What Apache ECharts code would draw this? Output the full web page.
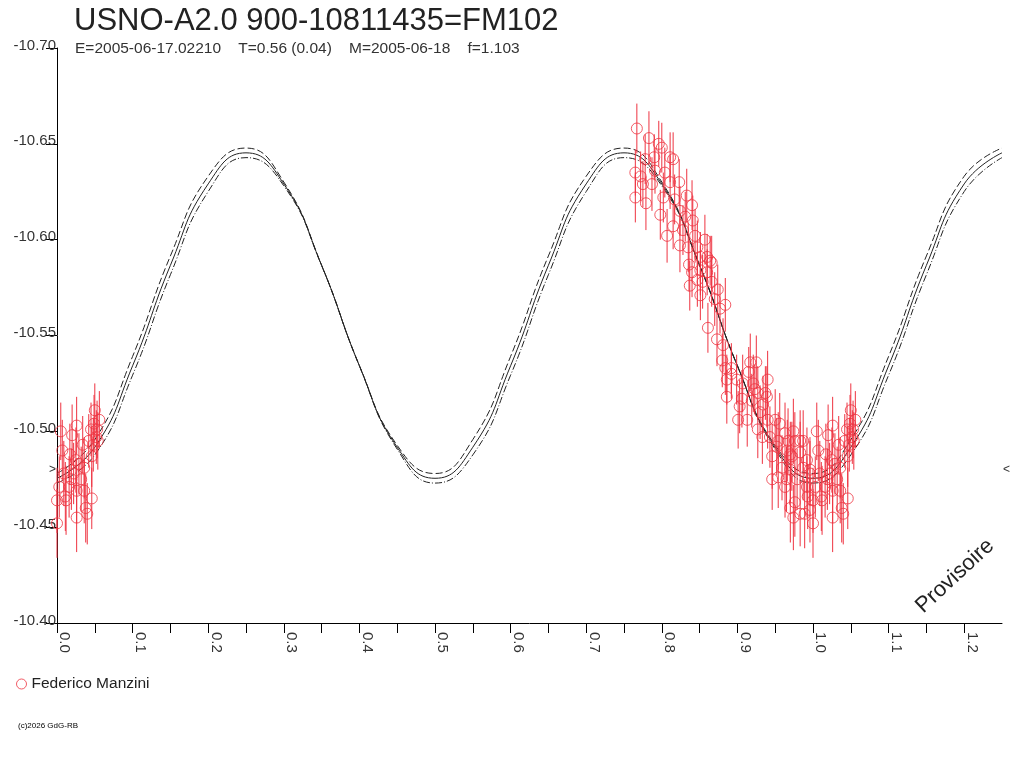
<!DOCTYPE html>
<html>
<head>
<meta charset="utf-8">
<script src="https://cdn.jsdelivr.net/npm/echarts@6/dist/echarts.min.js"></script>
<style>
  html, body { margin: 0; padding: 0; background: #fff; }
  #main { width: 1024px; height: 768px; }
</style>
</head>
<body>
<div id="main"></div>
<script>
var titleText = 'USNO-A2.0 900-10811435=FM102'
var subText = 'E=2005-06-17.02210    T=0.56 (0.04)    M=2005-06-18    f=1.103'
var observer = 'Federico Manzini'
var limitMag = -10.48

// fit curves (phase, magnitude)
var curvePhase = [0, 0.05, 0.10, 0.15, 0.20, 0.25, 0.30, 0.35, 0.40, 0.45, 0.50, 0.55, 0.60,
  0.65, 0.70, 0.75, 0.80, 0.85, 0.90, 0.95, 1.00, 1.05, 1.10, 1.15, 1.20, 1.25]
var curveMid = [-10.4755, -10.4917, -10.5342, -10.5866, -10.6291, -10.6453, -10.6291, -10.5866, -10.5342,
  -10.4917, -10.4755, -10.4917, -10.5342, -10.5866, -10.6291, -10.6453, -10.6291, -10.5866, -10.5342,
  -10.4917, -10.4755, -10.4917, -10.5342, -10.5866, -10.6291, -10.6453]
var curveUp = [-10.4780, -10.4957, -10.5391, -10.5915, -10.6331, -10.6478, -10.6301, -10.5867, -10.5343,
  -10.4927, -10.4780, -10.4957, -10.5391, -10.5915, -10.6331, -10.6478, -10.6301, -10.5867, -10.5343,
  -10.4927, -10.4780, -10.4957, -10.5391, -10.5915, -10.6331, -10.6478]
var curveLow = [-10.4730, -10.4877, -10.5293, -10.5817, -10.6251, -10.6428, -10.6281, -10.5865, -10.5341,
  -10.4907, -10.4730, -10.4877, -10.5293, -10.5817, -10.6251, -10.6428, -10.6281, -10.5865, -10.5341,
  -10.4907, -10.4730, -10.4877, -10.5293, -10.5817, -10.6251, -10.6428]

// observations: phase, magnitude, error
var phase = [0.767, 0.783, 0.765, 0.765, 0.779, 0.775, 0.772, 0.787, 0.796, 0.800,
  0.811, 0.815, 0.790, 0.804, 0.811, 0.802, 0.823, 0.817, 0.833, 0.840,
  0.841, 0.815, 0.824, 0.831, 0.835, 0.847, 0.851, 0.860, 0.864, 0.836,
  0.840, 0.847, 0.851, 0.860, 0.866, 0.870, 0.884, 0.877, 0.861, 0.873,
  0.881, 0.886, 0.886, 0.901, 0.913, 0.899, 0.917, 0.925, 0.915, 0.940,
  0.937, 0.923, 0.934, 0.930, 0.940, 0.933, 0.956, 0.946, 0.946, 0.954,
  0.963, 0.974, 0.976, 0.966, 0.959, 0.963, 0.970, 0.983, 0.992, 0.979,
  0.976, 0.983, 0.992, 0.993, 1.000, 1.000, 1.005, 1.007, 1.009, 1.020,
  1.026, 1.025, 1.019, 1.026, 1.026, 1.036, 1.032, 1.038, 1.046, 1.045,
  1.049, 1.052, 1.053, 1.042, 0.880, 0.892, 0.906, 0.919, 0.927, 0.950,
  0.970, 0.987, 0.996, 1.012, 1.017, 1.034, 0.857, 0.866, 0.874, 0.798,
  0.807, 0.824, 0.791, 0.778,
  0.884, 0.892, 0.907, 0.903, 0.921, 0.927, 0.939, 0.943, 0.952, 0.967,
  0.972, 0.983, 0.987, 0.996, 1.003, 0.989, 0.996, 1.011, 1.016, 1.022,
  1.029, 1.036, 1.040, 1.046, 0.970, 0.974, 0.954, 0.965, 1.050, 1.056,
  1.048, 1.054, 0.828, 0.844, 0.851, 0.854, 0.837]
var mag = [-10.658, -10.653, -10.635, -10.622, -10.619, -10.629, -10.633, -10.629, -10.650, -10.648,
  -10.643, -10.642, -10.643, -10.635, -10.630, -10.622, -10.630, -10.621, -10.623, -10.618,
  -10.610, -10.607, -10.597, -10.612, -10.596, -10.596, -10.591, -10.591, -10.589, -10.587,
  -10.583, -10.579, -10.571, -10.583, -10.578, -10.569, -10.566, -10.564, -10.554, -10.548,
  -10.545, -10.527, -10.518, -10.506, -10.506, -10.527, -10.536, -10.536, -10.531, -10.527,
  -10.520, -10.522, -10.514, -10.510, -10.506, -10.497, -10.504, -10.487, -10.475, -10.495,
  -10.499, -10.500, -10.495, -10.490, -10.481, -10.471, -10.480, -10.489, -10.485, -10.475,
  -10.463, -10.457, -10.471, -10.466, -10.452, -10.464, -10.500, -10.490, -10.478, -10.498,
  -10.503, -10.485, -10.475, -10.469, -10.455, -10.481, -10.475, -10.460, -10.465, -10.501,
  -10.504, -10.497, -10.501, -10.495, -10.537, -10.533, -10.517, -10.516, -10.501, -10.506,
  -10.488, -10.495, -10.480, -10.464, -10.488, -10.493, -10.600, -10.588, -10.574, -10.613,
  -10.602, -10.615, -10.636, -10.642,
  -10.533, -10.530, -10.525, -10.513, -10.525, -10.520, -10.518, -10.497, -10.492, -10.495,
  -10.487, -10.495, -10.481, -10.478, -10.471, -10.457, -10.459, -10.466, -10.471, -10.478,
  -10.483, -10.469, -10.457, -10.487, -10.460, -10.455, -10.476, -10.475, -10.511, -10.506,
  -10.493, -10.495, -10.605, -10.602, -10.584, -10.578, -10.576]
var err = [0.013, 0.014, 0.012, 0.013, 0.014, 0.012, 0.013, 0.014, 0.012, 0.013,
  0.013, 0.014, 0.012, 0.013, 0.014, 0.013, 0.012, 0.013, 0.014, 0.013,
  0.013, 0.012, 0.014, 0.013, 0.013, 0.014, 0.013, 0.012, 0.013, 0.014,
  0.013, 0.014, 0.013, 0.012, 0.013, 0.014, 0.014, 0.013, 0.013, 0.014,
  0.014, 0.013, 0.014, 0.015, 0.014, 0.013, 0.015, 0.014, 0.013, 0.015,
  0.014, 0.013, 0.015, 0.014, 0.015, 0.014, 0.016, 0.017, 0.016, 0.015,
  0.016, 0.017, 0.015, 0.016, 0.017, 0.016, 0.017, 0.016, 0.017, 0.016,
  0.018, 0.017, 0.016, 0.017, 0.018, 0.017, 0.015, 0.016, 0.017, 0.016,
  0.015, 0.017, 0.016, 0.017, 0.018, 0.016, 0.017, 0.018, 0.016, 0.014,
  0.015, 0.014, 0.015, 0.014, 0.014, 0.013, 0.015, 0.014, 0.015, 0.016,
  0.017, 0.016, 0.017, 0.018, 0.016, 0.015, 0.013, 0.014, 0.013, 0.013,
  0.014, 0.013, 0.012, 0.013,
  0.014, 0.013, 0.015, 0.014, 0.015, 0.014, 0.016, 0.016, 0.015, 0.017,
  0.018, 0.016, 0.017, 0.017, 0.016, 0.018, 0.017, 0.018, 0.016, 0.016,
  0.016, 0.017, 0.016, 0.016, 0.018, 0.017, 0.016, 0.017, 0.014, 0.015,
  0.014, 0.015, 0.013, 0.014, 0.013, 0.014, 0.013]

var red = '#ee3340'
var ink = '#222'
var font = "'Liberation Sans', Arial, sans-serif"

// phase diagram: points past 1.0 are repeated at phase - 1
var obs = []
phase.forEach(function (p, i) {
  obs.push([p, mag[i], err[i]])
  if (p >= 1) obs.push([+(p - 1).toFixed(3), mag[i], err[i]])
})

function curve (vals) {
  return curvePhase.map(function (p, i) { return [p, vals[i]] })
}

var myChart = echarts.init(document.getElementById('main'))
var option = {
  animation: false,
  textStyle: { fontFamily: font },
  title: [
    { text: titleText, left: 74, top: 6, padding: 0,
      textStyle: { fontSize: 31, fontWeight: 'normal', color: ink, fontFamily: font } },
    { text: subText, left: 75, top: 41, padding: 0,
      textStyle: { fontSize: 15.5, fontWeight: 'normal', color: '#333', fontFamily: font } }
  ],
  legend: {
    data: [{ name: observer, icon: 'circle',
      itemStyle: { color: 'rgba(255,255,255,0)', borderColor: red, borderWidth: 1 } }],
    left: 16, top: 676, padding: 0,
    itemWidth: 10, itemHeight: 10, itemGap: 5,
    textStyle: { fontSize: 15.5, color: ink }
  },
  grid: { left: 57, right: 22, top: 48, bottom: 145 },
  xAxis: {
    type: 'value', min: 0, max: 1.25, interval: 0.05,
    splitLine: { show: false },
    axisLine: { onZero: false, lineStyle: { color: '#000', width: 1 } },
    axisTick: { length: 10, lineStyle: { color: '#000' } },
    axisLabel: {
      rotate: -90, margin: 9, verticalAlign: 'bottom',
      fontSize: 15, color: '#333', showMaxLabel: false,
      formatter: function (v) {
        return Math.round(v * 100) % 10 === 0 ? v.toFixed(1) : ''
      }
    }
  },
  yAxis: {
    type: 'value', inverse: true, min: -10.70, max: -10.40, interval: 0.05,
    splitLine: { show: false },
    axisLine: { show: true, lineStyle: { color: '#000', width: 1 } },
    axisTick: { show: true, length: 11, lineStyle: { color: '#000' } },
    axisLabel: {
      margin: 1, verticalAlign: 'bottom', lineHeight: 5, fontSize: 15, color: '#333',
      formatter: function (v) { return v.toFixed(2) }
    }
  },
  series: [
    {
      type: 'line', data: curve(curveUp), smooth: true, symbol: 'none',
      lineStyle: { color: ink, width: 1, type: [7, 3] }, z: 2
    },
    {
      type: 'line', data: curve(curveMid), smooth: true, symbol: 'none',
      lineStyle: { color: ink, width: 1 }, z: 2,
      markLine: {
        silent: true, symbol: 'none',
        lineStyle: { color: 'rgba(0,0,0,0)', width: 0 },
        label: { color: '#333', fontSize: 12, distance: 1 },
        data: [
          { yAxis: limitMag, label: { position: 'start', formatter: '>' } },
          { yAxis: limitMag, label: { position: 'end', formatter: '<' } }
        ]
      }
    },
    {
      type: 'line', data: curve(curveLow), smooth: true, symbol: 'none',
      lineStyle: { color: ink, width: 1, type: [7, 2, 1, 2] }, z: 2
    },
    {
      type: 'custom', data: obs, z: 3,
      renderItem: function (params, api) {
        var p1 = api.coord([api.value(0), api.value(1) - api.value(2)])
        var p2 = api.coord([api.value(0), api.value(1) + api.value(2)])
        return {
          type: 'line',
          shape: { x1: p1[0], y1: p1[1], x2: p2[0], y2: p2[1] },
          style: { stroke: red, lineWidth: 1 }
        }
      }
    },
    {
      type: 'scatter', name: observer, data: obs, z: 4,
      symbol: 'circle', symbolSize: 11,
      itemStyle: { color: 'rgba(255,255,255,0)', borderColor: red, borderWidth: 1 }
    }
  ],
  graphic: [
    { type: 'text', x: 955, y: 576, rotation: Math.PI / 4.2,
      style: { text: 'Provisoire', fontSize: 22, fontFamily: font, fill: ink,
        textAlign: 'center', textVerticalAlign: 'middle' } },
    { type: 'text', left: 18, top: 722,
      style: { text: '(c)2026 GdG-RB', fontSize: 8, fontFamily: font, fill: '#000' } }
  ]
}
myChart.setOption(option)
</script>
</body>
</html>
